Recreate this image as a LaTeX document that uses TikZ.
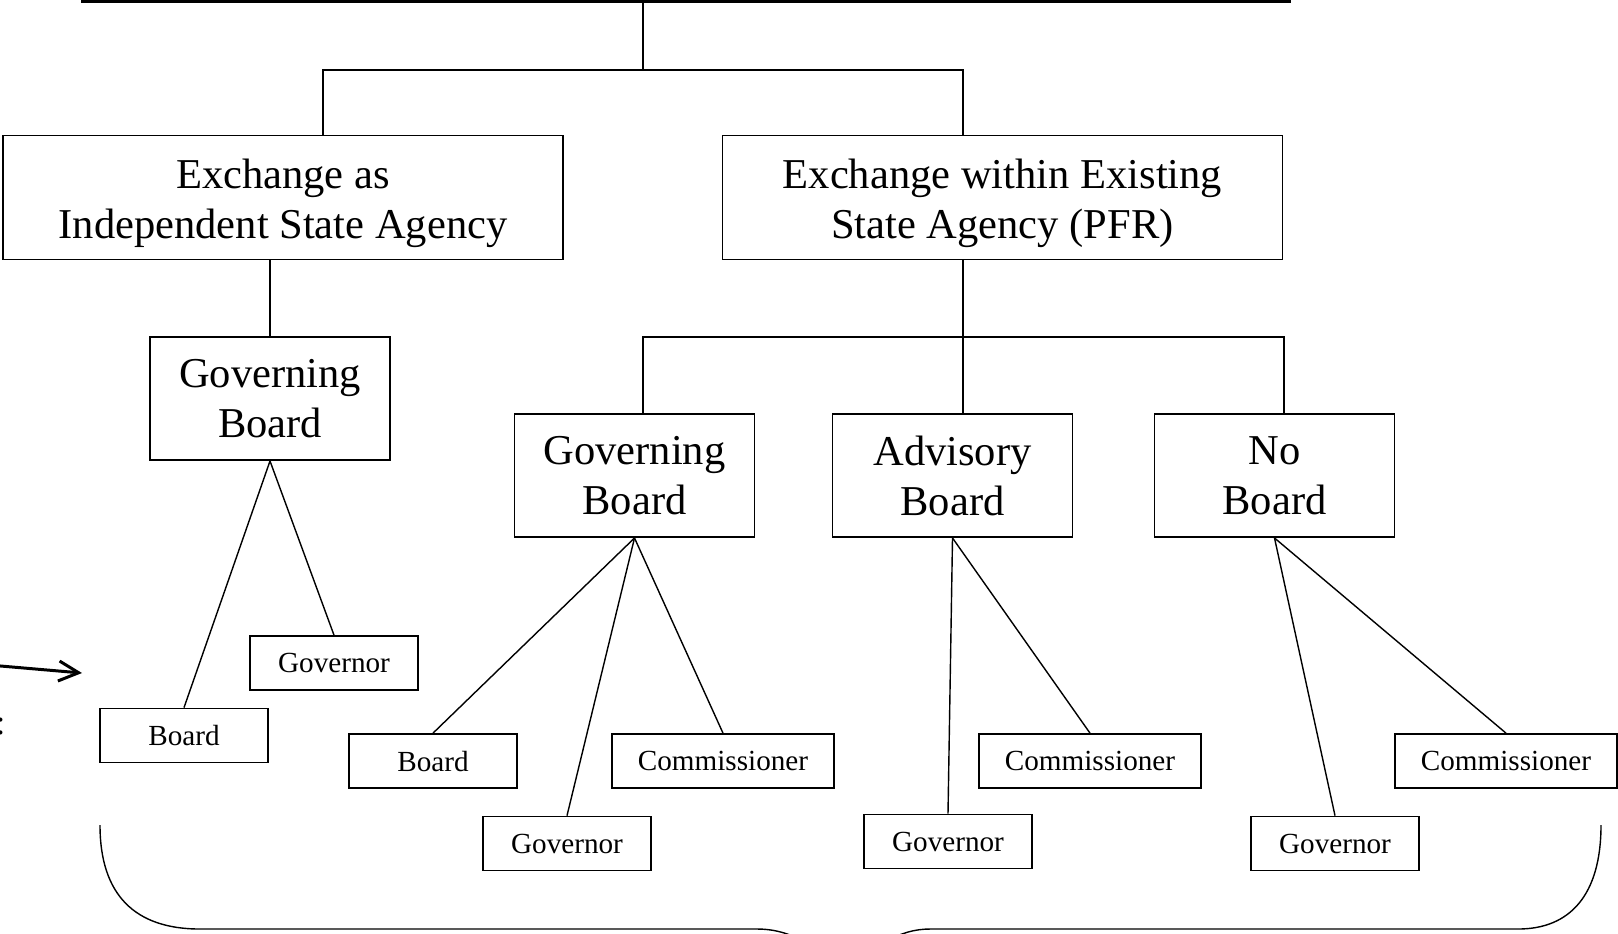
\documentclass[tikz,border=0pt]{standalone}
\usepackage{fontspec}
\setmainfont{Liberation Serif}
\usetikzlibrary{arrows.meta, positioning}

\begin{document}
\begin{tikzpicture}[
    x=0.1mm, y=-0.1mm,
    bigbox/.style={
        rectangle,
        draw,
        line width=0.55pt,
        minimum width=56mm,
        minimum height=12.3mm,
        align=center,
        font=\fontsize{12.1}{14.2}\selectfont
    },
    typebox/.style={
        bigbox,
        text height=26pt
    },
    boardbox/.style={
        bigbox,
        minimum width=24mm
    },
    smallbox/.style={
        rectangle,
        draw,
        line width=0.5pt,
        minimum width=16.8mm,
        minimum height=5.4mm,
        font=\fontsize{8.3}{10}\selectfont
    },
    commbox/.style={
        smallbox,
        minimum width=22.2mm
    },
    bus/.style={
        line width=0.5pt
    },
    link/.style={
        line width=0.4pt
    },
    pointer/.style={
        -{Straight Barb[length=2mm,width=2mm]},
        line width=0.85pt
    }
]

% Frame
\path[use as bounding box, clip] (0,0) rectangle (1618,933);

% Top level (cut off)
\node[bigbox, line width=0.8pt, minimum width=120.8mm, minimum height=20mm] (top) at (686,-98.5) {};

% Exchange types
\node[typebox] (indep) at (283,197.5) {Exchange as\\Independent State Agency};
\node[typebox] (pfr) at (1002.5,197.5) {Exchange within Existing\\State Agency (PFR)};

% Board types
\node[boardbox] (govboard) at (270,398.5) {Governing\\Board};
\node[boardbox] (pfrgov) at (634.5,475.5) {Governing\\Board};
\node[boardbox] (advisory) at (952.5,475.5) {Advisory\\Board};
\node[boardbox] (noboard) at (1274.5,475.5) {No\\Board};

% Appointments
\node[smallbox] (board1) at (184,735.5) {Board};
\node[smallbox] (gov1) at (334,663) {Governor};
\node[smallbox] (board2) at (433,761) {Board};
\node[smallbox] (gov2) at (567,843.5) {Governor};
\node[commbox] (comm2) at (723,761) {Commissioner};
\node[smallbox] (gov3) at (948,841.5) {Governor};
\node[commbox] (comm3) at (1090,761) {Commissioner};
\node[smallbox] (gov4) at (1335,843.5) {Governor};
\node[commbox] (comm4) at (1506,761) {Commissioner};

% Side label (cut off)
\node[font=\fontsize{10}{12}\selectfont, anchor=base east, inner sep=0pt] (colon) at (6,734) {:};
\coordinate (tail) at (-5,665.5);
\coordinate (head) at (82,673);

% Bus points
\coordinate (topbus) at (643,70);
\coordinate (colA) at (323,0);
\coordinate (colB) at (963,0);
\coordinate (pfrbus) at (963,337);
\coordinate (colC) at (643,0);
\coordinate (colD) at (1284,0);

% Connectors
\draw[bus] (top.south -| topbus) -- (topbus);
\draw[bus] (indep.north -| colA) |- (topbus) -| (pfr.north -| colB);
\draw[link] (indep.south -| govboard.north) -- (govboard.north);
\draw[bus] (pfr.south -| pfrbus) -- (pfrbus);
\draw[bus] (pfrgov.north -| colC) |- (pfrbus) -| (noboard.north -| colD);
\draw[link] (pfrbus) -- (advisory.north -| pfrbus);

\foreach \kid in {board1, gov1} \draw[link] (govboard.south) -- (\kid.north);
\foreach \kid in {board2, gov2, comm2} \draw[link] (pfrgov.south) -- (\kid.north);
\foreach \kid in {gov3, comm3} \draw[link] (advisory.south) -- (\kid.north);
\foreach \kid in {gov4, comm4} \draw[link] (noboard.south) -- (\kid.north);

\draw[pointer] (tail) -- (head);

% Brace
\draw[link] (100,825) .. controls (100,895) and (135,929) .. (200,929)
    -- (757,929) .. controls (790,929) and (820,945) .. (848,985);
\draw[link] (1601,825) .. controls (1601,895) and (1570,929) .. (1518,929)
    -- (930,929) .. controls (900,929) and (870,945) .. (848,985);

\end{tikzpicture}
\end{document}
